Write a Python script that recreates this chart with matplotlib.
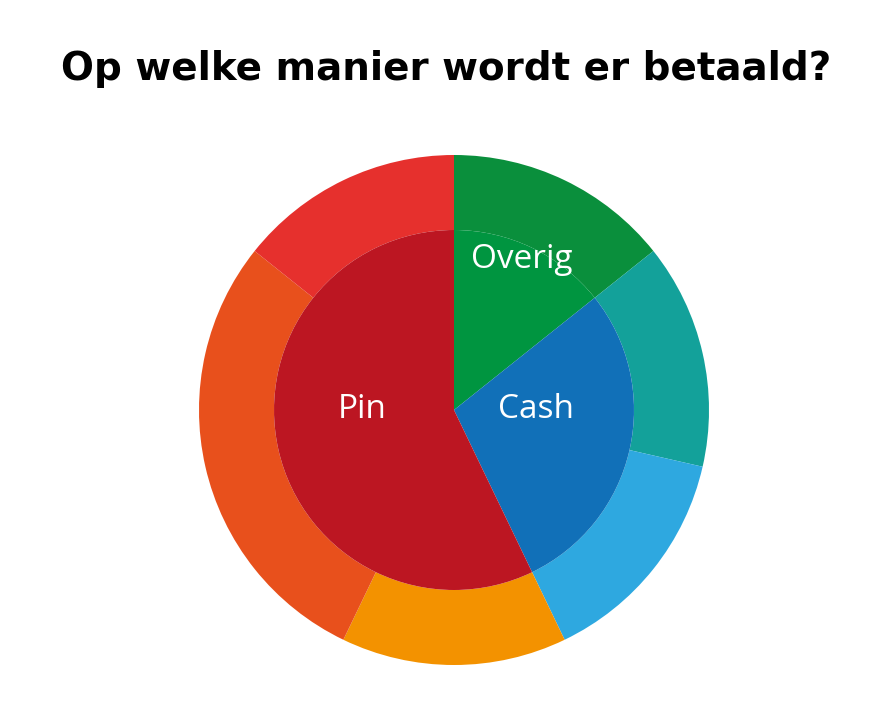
import matplotlib.pyplot as plt

# binnenring
inner_labels = ['Overig', 'Cash', 'Pin']
inner_values = [1, 2, 4]
inner_colors = ['#009540', '#1170b8', '#bc1622']

# buitenring
outer_values = [1, 1, 1, 1, 2, 1]
outer_colors = ['#0a8f3c', '#13a19a', '#2ea8e0', '#f39200', '#e8501c', '#e6302d']

fig = plt.figure(figsize=(8.92, 7.13), dpi=100)
ax = fig.add_axes([0.0, 0.0, 1.0, 1.0])

R_out = 255
R_in = 180
ax.pie(outer_values, colors=outer_colors, radius=R_out, startangle=90,
       counterclock=False, center=(454, 303),
       wedgeprops=dict(width=R_out - R_in, linewidth=0))
ax.pie(inner_values, colors=inner_colors, radius=R_in, startangle=90,
       counterclock=False, center=(454, 303),
       wedgeprops=dict(linewidth=0))

ax.set_xlim(0, 892)
ax.set_ylim(0, 713)
ax.set_aspect('equal')
ax.axis('off')

label_pos = [(522, 453), (536, 303), (362, 303)]
for lab, (x, y) in zip(inner_labels, label_pos):
    ax.text(x, y, lab, color='white', fontsize=24, family='Open Sans',
            ha='center', va='center')

ax.text(446, 644, 'Op welke manier wordt er betaald?', fontsize=28,
        family='DejaVu Sans', fontweight='bold', ha='center', va='center',
        color='black')

fig.savefig('out.png', dpi=100)
